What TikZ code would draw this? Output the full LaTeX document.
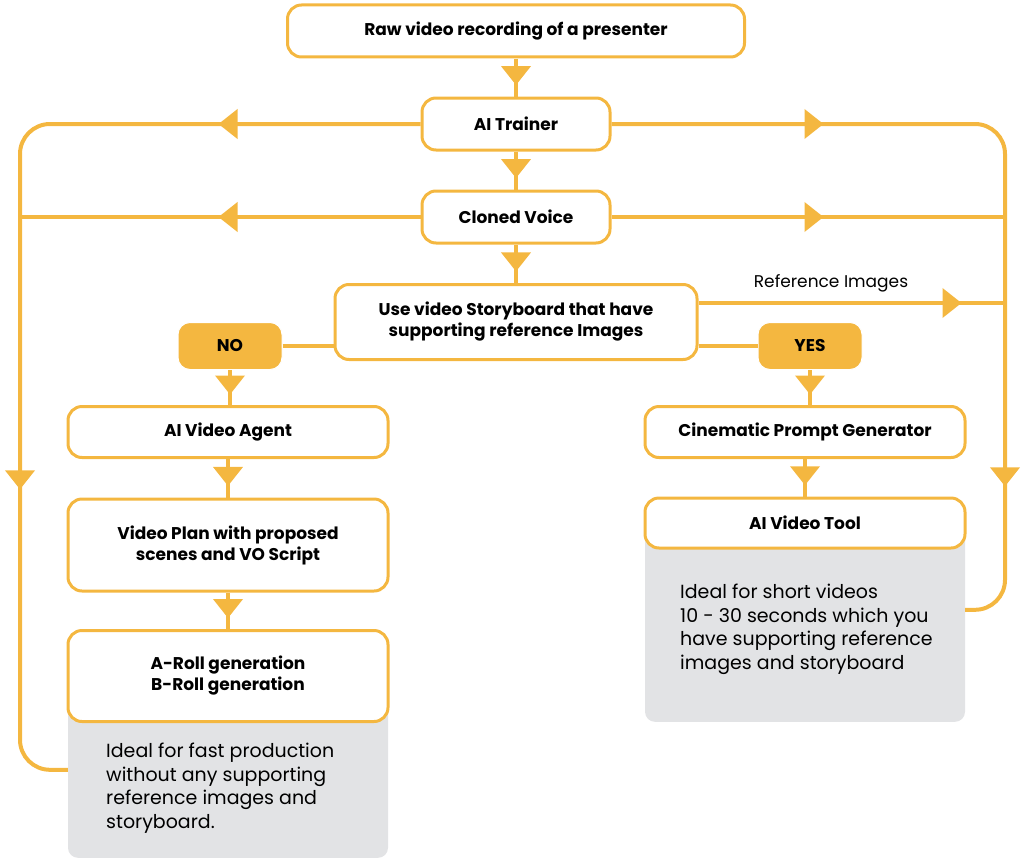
\documentclass[tikz,border=0pt]{standalone}
\usepackage{fontspec}
\setmainfont{Poppins}
\usetikzlibrary{arrows.meta,decorations.markings}
\definecolor{gold}{HTML}{F4B740}
\definecolor{notegray}{HTML}{E2E3E5}
\tikzset{
  box/.style={draw=gold, line width=3pt, fill=white, rounded corners=14pt, font=\bfseries\fontsize{17}{21}\selectfont, align=center, inner sep=0pt},
  choice/.style={draw=white, line width=1pt, fill=gold, rounded corners=12pt, font=\bfseries\fontsize{17}{21}\selectfont, minimum width=104pt, minimum height=47pt},
  note/.style={fill=notegray, rounded corners=10pt, minimum width=320pt, inner sep=0pt},
  notetext/.style={font=\fontsize{19}{23.5}\selectfont, align=left, inner sep=0pt, anchor=north west},
  flow/.style={draw=gold, line width=4pt},
  midarrow/.style={postaction={decorate}, decoration={markings, mark=at position #1 with {\arrow{Triangle[length=19pt,width=29pt]}}}},
  midarrows/.style 2 args={postaction={decorate}, decoration={markings, mark=at position #1 with {\arrow{Triangle[length=19pt,width=29pt]}}, mark=at position #2 with {\arrow{Triangle[length=19pt,width=29pt]}}}},
}
\begin{document}
\begin{tikzpicture}[x=1pt, y=-1pt]
\useasboundingbox (0,0) rectangle (1024,859);
\coordinate (lft) at (20,0);
\coordinate (rgt) at (1005,0);

\node[box, minimum width=457pt, minimum height=52pt] (raw) at (516,31) {Raw video recording of a presenter};
\node[box, minimum width=188pt, minimum height=52pt] (trainer) at (516,124) {AI Trainer};
\node[box, minimum width=188pt, minimum height=52pt] (voice) at (516,217) {Cloned Voice};
\node[box, minimum width=362pt, minimum height=75pt] (story) at (516,322) {Use video Storyboard that have\\supporting reference Images};
\node[choice] (no) at (230,346) {NO};
\node[choice] (yes) at (810,346) {YES};
\node[font=\fontsize{17}{20}\selectfont] (reflabel) at (831,283) {Reference Images};

\node[box, minimum width=320pt, minimum height=51pt] (agent) at (228,432) {AI Video Agent};
\node[box, minimum width=320pt, minimum height=92pt] (plan) at (228,545) {Video Plan with proposed\\scenes and VO Script};
\node[note, minimum height=160pt, anchor=south] (fastnote) at (228,858) {};
\node[box, minimum width=320pt, minimum height=91pt] (roll) at (228,676) {A-Roll generation\\B-Roll generation};
\node[notetext] (fasttext) at (106,743) {Ideal for fast production\\without any supporting\\reference images and\\storyboard.};

\node[box, minimum width=320pt, minimum height=51pt] (prompt) at (805,432) {Cinematic Prompt Generator};
\node[note, minimum height=202pt, anchor=south] (shortnote) at (805,722) {};
\node[box, minimum width=320pt, minimum height=50pt] (tool) at (805,523) {AI Video Tool};
\node[notetext] (shorttext) at (680,584) {Ideal for short videos\\10 - 30 seconds which you\\have supporting reference\\images and storyboard};

\draw[flow, midarrow=0.7] (raw) -- (trainer);
\draw[flow, midarrow=0.7] (trainer) -- (voice);
\draw[flow, midarrow=0.7] (voice) -- (story);
\draw[flow, midarrows={202pt}{753pt}, rounded corners=30pt] (trainer.west) -- (trainer.west -| lft) |- ([yshift=8pt]fastnote.west);
\draw[flow, midarrow=202pt] (voice.west) -- (voice.west -| lft);
\draw[flow, midarrows={212pt}{743pt}, rounded corners=30pt] (trainer.east) -- (trainer.east -| rgt) |- ([yshift=11pt]shortnote.east);
\draw[flow, midarrow=212pt] (voice.east) -- (voice.east -| rgt);
\draw[flow, midarrow=263pt] ([yshift=19pt]story.east) -- ([yshift=19pt]story.east -| rgt);
\draw[flow] (no.east) -- (no.east -| story.west);
\draw[flow] (story.east |- yes.west) -- (yes.west);
\draw[flow, midarrow=0.7] (no.south) -- (no.south |- agent.north);
\draw[flow, midarrow=0.7] (agent) -- (plan);
\draw[flow, midarrow=0.7] (plan) -- (roll);
\draw[flow, midarrow=0.7] (yes.south) -- (yes.south |- prompt.north);
\draw[flow, midarrow=0.7] (prompt) -- (tool);
\end{tikzpicture}
\end{document}
